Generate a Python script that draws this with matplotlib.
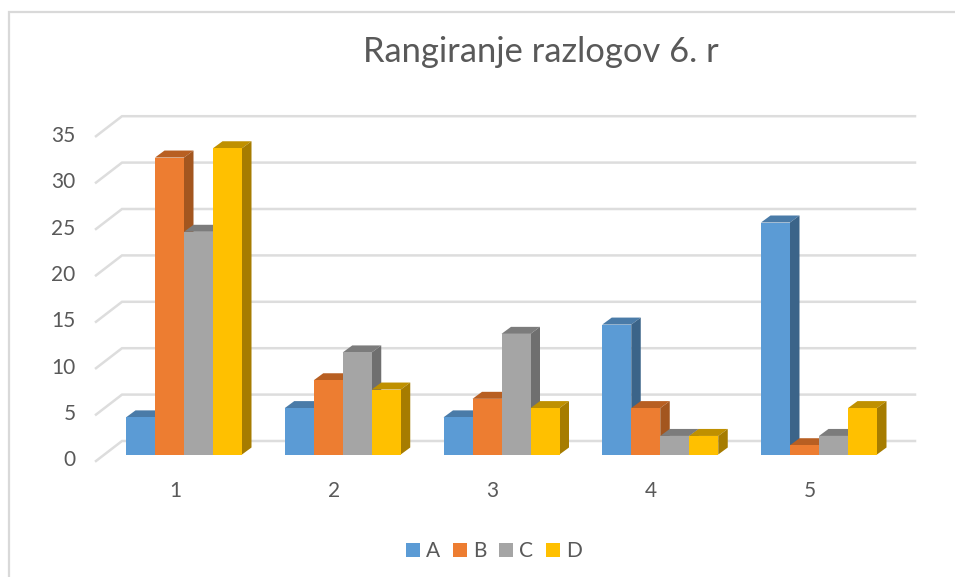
import matplotlib
matplotlib.use("Agg")
import matplotlib.pyplot as plt
from matplotlib.patches import Polygon, Patch
from matplotlib.lines import Line2D
from matplotlib.transforms import ScaledTranslation

categories = [1, 2, 3, 4, 5]
series_names = ["A", "B", "C", "D"]
series_a = [4, 5, 4, 14, 25]
series_b = [32, 8, 6, 5, 1]
series_c = [24, 11, 13, 2, 2]
series_d = [33, 7, 5, 2, 5]
y_ticks = [0, 5, 10, 15, 20, 25, 30, 35]
title = "Rangiranje razlogov 6. r"

front = ["#5B9BD5", "#ED7D31", "#A5A5A5", "#FFC000"]
top = ["#4A7BA8", "#B85F22", "#7C7C7C", "#BF9000"]
side = ["#3B6489", "#A3561F", "#6F6F6F", "#A67C00"]
text_c = "#595959"
grid_c = "#DDDDDD"

W, H = 955, 577
FONT = ["Lato", "DejaVu Sans"]
plt.rcParams["font.family"] = FONT

fig = plt.figure(figsize=(W / 100, H / 100), dpi=100)
PX_X = 158.75           # pixels per category
PX_Y = 9.28             # pixels per value unit
left_px = 184 - PX_X / 2
base_px = 454.5
ax = fig.add_axes([left_px / W, 1 - base_px / H,
                   5 * PX_X / W, 35 * PX_Y / H])
ax.set_xlim(0.5, 5.5)
ax.set_ylim(0, 35)
ax.patch.set_alpha(0)
for s in ax.spines.values():
    s.set_visible(False)

px = lambda n: n / PX_X
py = lambda n: n / PX_Y

# walls: back gridlines and floor-side diagonals
x_back0 = 0.5 + px(122 - left_px)
x_back1 = 0.5 + px(915 - left_px)
x_fr = 0.5 + px(96 - left_px)
for v in y_ticks:
    ax.plot([x_fr, x_back0, x_back1],
            [v + py(-6.5), v + py(13.5), v + py(13.5)],
            color=grid_c, lw=1.8, clip_on=False, zorder=1,
            solid_joinstyle="miter")

# bars
bar_w = 29 / PX_X
dep_x, dep_y = px(9.5), py(7)
all_series = [series_a, series_b, series_c, series_d]
z = 2
for ci, cat in enumerate(categories):
    for si, vals in enumerate(all_series):
        v = vals[ci]
        x0 = cat + (si - 2) * bar_w
        x1 = x0 + bar_w
        ax.add_patch(Polygon([(x0, v), (x1, v), (x1 + dep_x, v + dep_y), (x0 + dep_x, v + dep_y)],
                             closed=True, fc=top[si], ec="none", zorder=z, clip_on=False))
        ax.add_patch(Polygon([(x1, 0), (x1 + dep_x, dep_y), (x1 + dep_x, v + dep_y), (x1, v)],
                             closed=True, fc=side[si], ec="none", zorder=z, clip_on=False))
        ax.bar(x0, v, width=bar_w, align="edge", color=front[si], zorder=z + 0.5, clip_on=False)
        z += 1

# ticks
ax.set_yticks(y_ticks)
ax.set_xticks(categories)
ax.set_xticklabels([str(c) for c in categories])
ax.tick_params(axis="both", length=0, labelsize=15, labelcolor=text_c)
ax.tick_params(axis="y", pad=21)
ax.tick_params(axis="x", pad=19)
off_x = ScaledTranslation(-9 / 100, 0, fig.dpi_scale_trans)
off_y = ScaledTranslation(0, -4 / 100, fig.dpi_scale_trans)
for lab in ax.get_xticklabels():
    lab.set_transform(lab.get_transform() + off_x)
for lab in ax.get_yticklabels():
    lab.set_transform(lab.get_transform() + off_y)

# title
fig.text(541 / W, 1 - 52 / H, title, ha="center", va="center",
         fontsize=24.8, color=text_c)

# legend
handles = [Patch(fc=c, ec="none") for c in front]
fig.legend(handles, series_names, loc="center", bbox_to_anchor=(494 / W, 1 - 551 / H),
           ncol=4, frameon=False, fontsize=15, labelcolor=text_c,
           handlelength=0.67, handleheight=0.67, handletextpad=0.3,
           columnspacing=0.6, borderpad=0, borderaxespad=0)

# outer frame
fig.add_artist(Line2D([9 / W, 9 / W, 1], [0, 1 - 12 / H, 1 - 12 / H],
                      color="#D9D9D9", lw=1.6, transform=fig.transFigure,
                      solid_joinstyle="miter"))

fig.savefig("out.png", dpi=100)
